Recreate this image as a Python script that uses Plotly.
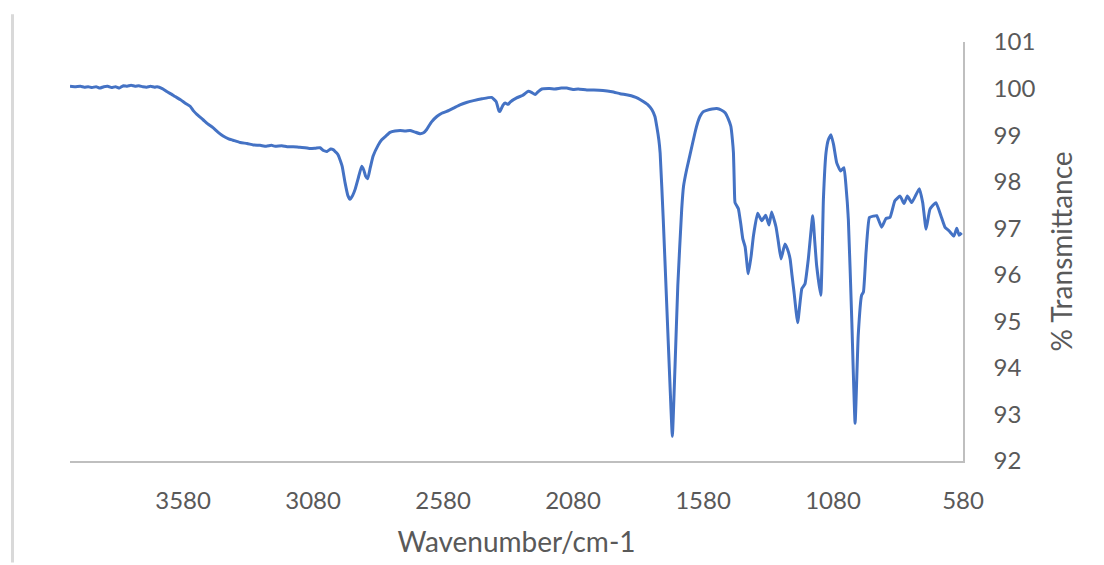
import plotly.graph_objects as go

wavenumber = [
    4015, 3995, 3975, 3960, 3945, 3930, 3915, 3900, 3885, 3870, 3855, 3840, 3825, 3810,
    3795, 3780, 3765, 3750, 3735, 3720, 3705, 3690, 3680, 3660, 3641, 3625, 3611, 3590,
    3570, 3553, 3540, 3526, 3503, 3485, 3465, 3445, 3426, 3405, 3388, 3360, 3334, 3310,
    3284, 3260, 3240, 3226, 3200, 3180, 3157, 3135, 3111, 3090, 3070, 3053, 3040, 3026,
    3013, 3003, 2990, 2984, 2975, 2968, 2957, 2946, 2938, 2928, 2918, 2905, 2893, 2885,
    2878, 2870, 2860, 2849, 2830, 2816, 2800, 2784, 2765, 2745, 2725, 2707, 2690, 2668,
    2655, 2643, 2625, 2604, 2585, 2566, 2540, 2515, 2490, 2463, 2430, 2393, 2376, 2365,
    2361, 2350, 2341, 2330, 2322, 2297, 2275, 2252, 2240, 2226, 2215, 2200, 2170, 2150,
    2125, 2104, 2080, 2060, 2027, 2000, 1965, 1930, 1899, 1870, 1848, 1830, 1810, 1790,
    1777, 1765, 1758, 1750, 1745, 1733, 1720, 1707, 1698, 1688, 1677, 1662, 1655, 1643,
    1630, 1611, 1600, 1592, 1580, 1566, 1545, 1527, 1510, 1495, 1483, 1473, 1467, 1463,
    1460, 1457, 1450, 1444, 1435, 1427, 1418, 1406, 1395, 1386, 1370, 1354, 1339, 1326,
    1316, 1305, 1299, 1290, 1280, 1265, 1255, 1245, 1238, 1230, 1216, 1200, 1188, 1175,
    1158, 1150, 1143, 1127, 1117, 1107, 1098, 1088, 1078, 1066, 1051, 1038, 1030, 1021,
    1008, 995, 983, 970, 963, 953, 940, 925, 912, 893, 876, 861, 842, 822,
    807, 794, 777, 748, 735, 722, 707, 684, 665, 649, 633, 615, 604, 595,
    585,
]

transmittance = [
    100.05, 100.04, 100.05, 100.03, 100.04, 100.02, 100.04, 100.01, 100.04, 100.05, 100.02, 100.04, 100.01, 100.06,
    100.05, 100.07, 100.05, 100.06, 100.04, 100.03, 100.05, 100.03, 100.04, 100.00, 99.93, 99.88, 99.83, 99.76,
    99.68, 99.62, 99.52, 99.44, 99.33, 99.24, 99.16, 99.06, 98.98, 98.92, 98.89, 98.84, 98.82, 98.79,
    98.78, 98.76, 98.78, 98.76, 98.77, 98.75, 98.75, 98.74, 98.73, 98.71, 98.72, 98.73, 98.67, 98.65,
    98.70, 98.69, 98.62, 98.58, 98.45, 98.33, 97.98, 97.70, 97.62, 97.70, 97.84, 98.10, 98.33, 98.25,
    98.12, 98.06, 98.30, 98.55, 98.78, 98.90, 98.98, 99.06, 99.09, 99.10, 99.09, 99.10, 99.07, 99.03,
    99.05, 99.12, 99.28, 99.40, 99.47, 99.51, 99.58, 99.65, 99.70, 99.74, 99.78, 99.81, 99.72, 99.52,
    99.51, 99.64, 99.69, 99.66, 99.71, 99.80, 99.85, 99.94, 99.92, 99.87, 99.93, 99.99, 100.00, 99.99,
    100.01, 100.01, 99.98, 99.99, 99.97, 99.97, 99.96, 99.93, 99.89, 99.86, 99.83, 99.79, 99.72, 99.64,
    99.55, 99.40, 99.19, 98.90, 98.62, 97.19, 95.41, 93.63, 92.53, 93.99, 95.77, 97.41, 97.90, 98.26,
    98.58, 99.05, 99.28, 99.40, 99.50, 99.53, 99.56, 99.57, 99.54, 99.48, 99.35, 99.19, 98.90, 98.62,
    98.00, 97.55, 97.48, 97.42, 97.10, 96.77, 96.60, 96.02, 96.40, 96.84, 97.32, 97.16, 97.28, 97.07,
    97.35, 97.15, 97.02, 96.70, 96.34, 96.66, 96.55, 96.34, 96.00, 95.63, 94.97, 95.70, 95.80, 96.34,
    97.27, 96.70, 96.20, 95.56, 97.62, 98.62, 98.90, 99.01, 98.80, 98.41, 98.23, 98.30, 97.90, 97.19,
    95.06, 92.81, 94.70, 95.56, 95.63, 96.48, 97.23, 97.26, 97.27, 97.02, 97.21, 97.23, 97.59, 97.69,
    97.53, 97.69, 97.55, 97.85, 97.55, 96.98, 97.41, 97.55, 97.27, 97.02, 96.94, 96.83, 97.00, 96.85,
    96.90,
]

x_ticks = [3580, 3080, 2580, 2080, 1580, 1080, 580]
y_ticks = [92, 93, 94, 95, 96, 97, 98, 99, 100, 101]

W, H = 1104, 565
ML, MR, MT, MB = 70, 141, 42, 102
PW, PH = W - ML - MR, H - MT - MB


def paper_x(px):
    return (px - ML) / PW


def paper_y(py):
    return (H - MB - py) / PH


fig = go.Figure()
fig.add_trace(go.Scatter(
    x=wavenumber, y=transmittance, mode="lines",
    line=dict(color="#4472C4", width=3, shape="spline", smoothing=0.4),
    hoverinfo="skip",
))

axis_font = dict(family="Lato", size=24, color="#595959")
title_font = dict(family="Lato", size=28, color="#595959")

fig.update_layout(
    width=W, height=H,
    margin=dict(l=ML, r=MR, t=MT, b=MB, pad=0),
    paper_bgcolor="white", plot_bgcolor="white",
    showlegend=False,
    xaxis=dict(
        range=[4015, 580], tickvals=x_ticks, ticktext=[str(v) for v in x_ticks],
        showgrid=False, zeroline=False, showline=True, linecolor="#bfbfbf", linewidth=1.5,
        ticks="", tickfont=axis_font, ticklabelstandoff=17,
        title=dict(text="Wavenumber/cm-1", font=title_font, standoff=20),
    ),
    yaxis=dict(
        side="right", range=[92, 101], tickvals=y_ticks,
        showgrid=False, zeroline=False, showline=True, linecolor="#bfbfbf", linewidth=1.5,
        ticks="", tickfont=axis_font, ticklabelstandoff=24,
        title=dict(text="% Transmittance", font=title_font, standoff=18),
    ),
    shapes=[dict(
        type="line", xref="paper", yref="paper",
        x0=paper_x(12.5), x1=paper_x(12.5),
        y0=paper_y(H), y1=paper_y(14),
        line=dict(color="#d9d9d9", width=3),
    )],
)

fig.write_html("out.html")
